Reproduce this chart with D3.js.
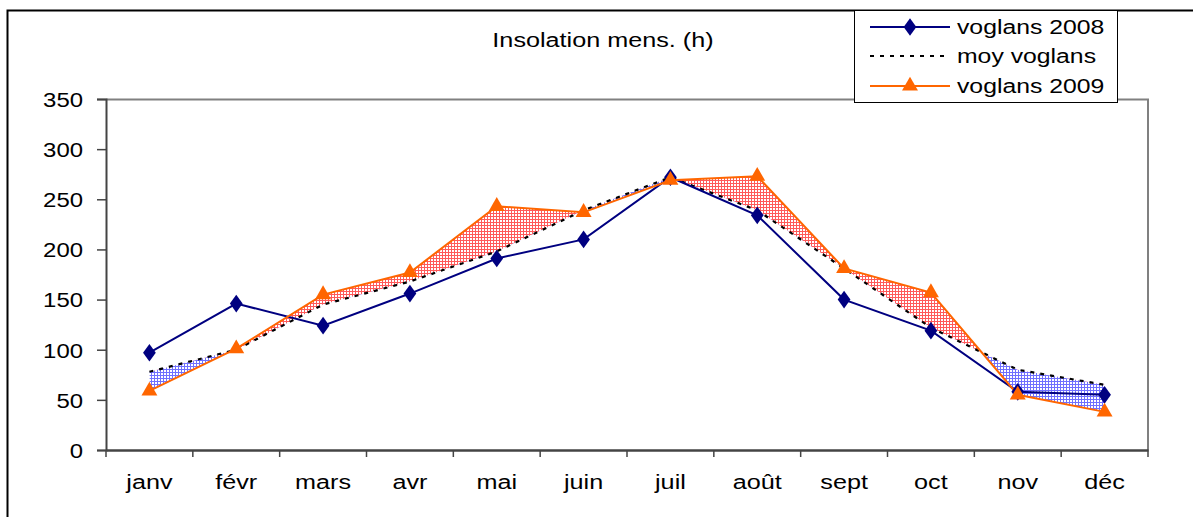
<!DOCTYPE html>
<html>
<head>
<meta charset="utf-8">
<script src="https://cdn.jsdelivr.net/npm/d3@7"></script>
<style>
  body { margin: 0; background: #fff; }
  text { font-family: "Liberation Sans", Arial, sans-serif; fill: #000; }
</style>
</head>
<body>
<div id="chart"></div>
<script>
// data
var months = ["janv", "févr", "mars", "avr", "mai", "juin", "juil", "août", "sept", "oct", "nov", "déc"];
var voglans2008 = [97, 146, 124, 156, 191, 210, 272, 234, 150, 119, 58, 55];
var moyVoglans = [78, 100, 145, 168, 198, 239, 272, 239, 181, 122, 80, 65];
var voglans2009 = [59, 101, 155, 177, 243, 237, 269, 273, 181, 157, 55, 38];
var yTicks = [0, 50, 100, 150, 200, 250, 300, 350];

var width = 1193, height = 517;
var margin = { top: 99, right: 45, bottom: 67, left: 106 };
var innerW = width - margin.left - margin.right;
var innerH = height - margin.top - margin.bottom;

// the original picture is a bit stretched horizontally
function stretch(sel, k) {
    sel.each(function () {
        var t = d3.select(this);
        var tx = +t.attr("x") || 0, ty = +t.attr("y") || 0;
        t.attr("transform", "translate(" + tx + "," + ty + ") scale(" + k + ",1) translate(" + (-tx) + "," + (-ty) + ")");
    });
}

var svg = d3.select("#chart").append("svg")
    .attr("width", width)
    .attr("height", height);

// outer frame
svg.append("rect")
    .attr("x", 7.5).attr("y", 10.5)
    .attr("width", width).attr("height", height)
    .attr("fill", "none").attr("stroke", "#000").attr("stroke-width", 2);

// hatch patterns
var defs = svg.append("defs");
function grid(id, col) {
    var p = defs.append("pattern").attr("id", id)
        .attr("patternUnits", "userSpaceOnUse")
        .attr("width", 3).attr("height", 3);
    p.append("rect").attr("width", 3).attr("height", 3).attr("fill", "#fff");
    p.append("rect").attr("width", 3).attr("height", 1).attr("fill", col);
    p.append("rect").attr("width", 1).attr("height", 3).attr("fill", col);
}
grid("hatchRed", "#ff5a5a");
grid("hatchBlue", "#7070ff");

var g = svg.append("g")
    .attr("transform", "translate(" + margin.left + "," + margin.top + ")");

var x = d3.scaleBand().domain(months).range([0, innerW]);
var y = d3.scaleLinear().domain([0, 350]).range([innerH, 0]);
var cx = function (d, i) { return x(months[i]) + x.bandwidth() / 2; };

// plot frame (top / right grey)
g.append("path")
    .attr("d", "M0,0.5H" + innerW + "V" + innerH)
    .attr("fill", "none").attr("stroke", "#808080").attr("stroke-width", 2);

// fill between moy and 2009
var idx = d3.range(months.length);
var between = d3.area()
    .x(function (i) { return cx(null, i); })
    .y0(function (i) { return y(moyVoglans[i]); })
    .y1(function (i) { return y(voglans2009[i]); });
var above = d3.area()
    .x(function (i) { return cx(null, i); })
    .y0(function () { return -50; })
    .y1(function (i) { return y(moyVoglans[i]); });
var below = d3.area()
    .x(function (i) { return cx(null, i); })
    .y0(function (i) { return y(moyVoglans[i]); })
    .y1(function () { return innerH + 50; });

defs.append("clipPath").attr("id", "clipAbove").append("path").attr("d", above(idx));
defs.append("clipPath").attr("id", "clipBelow").append("path").attr("d", below(idx));

g.append("path").attr("d", between(idx))
    .attr("fill", "url(#hatchRed)").attr("clip-path", "url(#clipAbove)");
g.append("path").attr("d", between(idx))
    .attr("fill", "url(#hatchBlue)").attr("clip-path", "url(#clipBelow)");

// axes
var yAxis = d3.axisLeft(y).tickValues(yTicks).tickSize(9).tickPadding(14);
var gy = g.append("g").call(yAxis);
gy.select(".domain").attr("stroke", "#444").attr("stroke-width", 2);
gy.selectAll(".tick line").attr("stroke", "#444").attr("stroke-width", 1.5);
gy.selectAll("text").style("font-size", "21px").attr("dy", "0.35em").attr("y", 0);
gy.selectAll("text").each(function () {
    var t = d3.select(this), tx = +t.attr("x");
    t.attr("transform", "translate(" + tx + ",0) scale(1.14,1) translate(" + (-tx) + ",0)");
});

var xAxis = d3.axisBottom(x).tickSize(0).tickPadding(24);
var gx = g.append("g").attr("transform", "translate(0," + innerH + ")").call(xAxis);
gx.select(".domain").attr("stroke", "#444").attr("stroke-width", 2.5);
gx.selectAll("text").style("font-size", "21px");
stretch(gx.selectAll("text"), 1.2);
// category boundary ticks
gx.selectAll(".bt").data(d3.range(months.length + 1)).enter().append("line")
    .attr("x1", function (i) { return i * x.bandwidth(); })
    .attr("x2", function (i) { return i * x.bandwidth(); })
    .attr("y1", 0).attr("y2", 7)
    .attr("stroke", "#444").attr("stroke-width", 1.5);

// lines
var line = d3.line().x(cx).y(function (d) { return y(d); });

g.append("path").datum(moyVoglans).attr("d", line)
    .attr("fill", "none").attr("stroke", "#000").attr("stroke-width", 2.2)
    .attr("stroke-dasharray", "4,6");

g.append("path").datum(voglans2008).attr("d", line)
    .attr("fill", "none").attr("stroke", "#000080").attr("stroke-width", 2);

g.append("path").datum(voglans2009).attr("d", line)
    .attr("fill", "none").attr("stroke", "#ff6600").attr("stroke-width", 2);

var diamond = d3.symbol().type(d3.symbolDiamond).size(90);
var triangle = d3.symbol().type(d3.symbolTriangle).size(110);

g.selectAll(".m08").data(voglans2008).enter().append("path")
    .attr("d", diamond)
    .attr("transform", function (d, i) { return "translate(" + cx(d, i) + "," + y(d) + ") scale(1.25,1)"; })
    .attr("fill", "#000080");

g.selectAll(".m09").data(voglans2009).enter().append("path")
    .attr("d", triangle)
    .attr("transform", function (d, i) { return "translate(" + cx(d, i) + "," + y(d) + ")"; })
    .attr("fill", "#ff6600");

// title
var title = svg.append("text")
    .attr("x", 603).attr("y", 47)
    .attr("text-anchor", "middle")
    .style("font-size", "21px")
    .text("Insolation mens. (h)");
stretch(title, 1.2);

// legend
var legend = svg.append("g");
legend.append("rect")
    .attr("x", 854.5).attr("y", 10.5).attr("width", 263).attr("height", 92)
    .attr("fill", "#fff").attr("stroke", "#000").attr("stroke-width", 1);

var legendItems = [
    { label: "voglans 2008", color: "#000080", dash: null, mark: diamond, sx: 1.25 },
    { label: "moy voglans", color: "#000", dash: "4,6", mark: null },
    { label: "voglans 2009", color: "#ff6600", dash: null, mark: triangle, sx: 1 }
];
var rowY = [27, 56, 86];
legendItems.forEach(function (it, i) {
    var ly = rowY[i];
    legend.append("line")
        .attr("x1", 870).attr("x2", 950).attr("y1", ly).attr("y2", ly)
        .attr("stroke", it.color).attr("stroke-width", it.dash ? 2.2 : 2)
        .attr("stroke-dasharray", it.dash);
    if (it.mark) {
        legend.append("path").attr("d", it.mark)
            .attr("transform", "translate(910," + ly + ") scale(" + it.sx + ",1)")
            .attr("fill", it.color);
    }
    var t = legend.append("text")
        .attr("x", 957).attr("y", ly + 7)
        .style("font-size", "21px")
        .text(it.label);
    stretch(t, 1.18);
});
</script>
</body>
</html>
